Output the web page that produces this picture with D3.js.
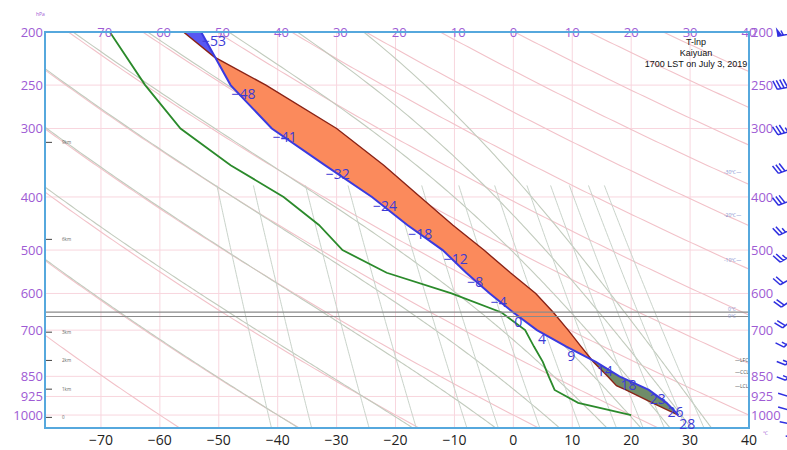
<!DOCTYPE html>
<html><head><meta charset="utf-8">
<script src="https://cdn.jsdelivr.net/npm/d3@7"></script>
<style>body{margin:0;background:#fff;} svg{display:block;font-family:"Open Sans",sans-serif;}</style>
</head><body><svg id="c" width="787" height="450"></svg>
<script>
// ---------- data ----------
const levels   = [1000,950,900,850,800,750,700,650,600,550,500,450,400,350,300,250,200];
const envTemp  = [28,26,23,18,14,9,4,0,-4,-8,-12,-18,-24,-32,-41,-48,-53];
const dewTemp  = [20,11,7,6,5,3.5,2,-2,-10.5,-21.5,-29,-33,-39,-48,-56.5,-62.5,-68.5];
const parcelP  = [1000,950,900,884,850,800,750,700,650,600,550,500,450,400,350,300,250,222,200];
const parcelT  = [28,23.6,19.1,17.5,16,13.6,11.5,9.3,6.8,3.8,-0.5,-5,-10.3,-15.8,-22,-30,-42,-50.8,-56];
const tempTicks = [-70,-60,-50,-40,-30,-20,-10,0,10,20,30,40];
const presTicks = [200,250,300,400,500,600,700,850,925,1000];
const heightLabels = ["9km","6km","3km","2km","1km","0"];
const heightP      = [318,478,706,795,897,1010];
const isoLabels = ["-30℃","-20℃","-10℃"];
const isoP      = [360,432,522];
const markLevels = [649,661];
const markLabels = ["0℃","0℃"];
const tagLabels = ["LFC","CCL","LCL"];
const tagP      = [794,835,884];
const windSpd = [6,8,10,12,14,14,16,18,20,22,24,26,28,30,34,40,55];
const windDir = [205,210,215,215,220,220,225,230,235,240,240,245,250,250,255,260,260];
const dryTheta = [-60,-40,-20,0,20,40,60,80,100,120,140,160,180,200];
const moistThetaW = [-40,-20.5,-6,5.3,13.7,19.7,24.8,28.5,32];
const mixRatios = [0.1,0.2,0.5,1,2,3,5,8,12,16,20,25,30];
const titleLines = ["T-lnp","Kaiyuan","1700 LST on July 3, 2019"];

// ---------- setup ----------
const svg = d3.select("#c");
const L=45, R=749, T=32, B=428;
const x = d3.scaleLinear().domain([-79.5,40]).range([L,R]);
const y = d3.scaleLog().domain([200,1056]).range([T,B]);
const purple = "#9e5bd4";

svg.append("rect").attr("width",787).attr("height",450).attr("fill","#fff");
svg.append("defs").append("clipPath").attr("id","clip")
  .append("rect").attr("x",L).attr("y",T).attr("width",R-L).attr("height",B-T);

const bg = svg.append("g").attr("clip-path","url(#clip)");
// grid
bg.selectAll(".vg").data(tempTicks).enter().append("line")
  .attr("x1",d=>x(d)).attr("x2",d=>x(d)).attr("y1",T).attr("y2",B)
  .attr("stroke","#f8d6de").attr("stroke-width",1);
bg.selectAll(".hg").data(presTicks).enter().append("line")
  .attr("x1",L).attr("x2",R).attr("y1",d=>y(d)).attr("y2",d=>y(d))
  .attr("stroke","#f8d6de").attr("stroke-width",1);

const lineTP = d3.line().x(d=>x(d[1])).y(d=>y(d[0]));
const pGrid = d3.range(0,161).map(i=>1056*Math.pow(200/1056,i/160));

// dry adiabats
dryTheta.forEach(th=>{
  const pts = pGrid.map(p=>[p,(th+273.15)*Math.pow(p/1000,0.286)-273.15]);
  bg.append("path").attr("d",lineTP(pts)).attr("fill","none")
    .attr("stroke","#f2c2c9").attr("stroke-width",1.1);
});
// moist adiabats
function dTdp(p,Tk){
  const Rd=287.04,cp=1005.7,Lv=2.501e6,eps=0.622;
  const Tc=Tk-273.15; const es=6.112*Math.exp(17.67*Tc/(Tc+243.5));
  const rs=eps*es/(p-es);
  return (1/p)*(Rd*Tk+Lv*rs)/(cp+Lv*Lv*rs*eps/(Rd*Tk*Tk));
}
function integrate(p0,T0,p1,dp){
  const out=[[p0,T0-273.15]]; let p=p0, Tk=T0;
  while((dp<0&&p>p1)||(dp>0&&p<p1)){
    const k1=dTdp(p,Tk), k2=dTdp(p+dp,Tk+k1*dp);
    Tk+=0.5*(k1+k2)*dp; p+=dp; out.push([p,Tk-273.15]);
  }
  return out;
}
moistThetaW.forEach(tw=>{
  const up=integrate(1000,tw+273.15,200,-4);
  const dn=integrate(1000,tw+273.15,1060,4).reverse();
  const pts=dn.concat(up.slice(1));
  bg.append("path").attr("d",lineTP(pts)).attr("fill","none")
    .attr("stroke","#c2cbbd").attr("stroke-width",1.1);
});
// mixing ratio lines
mixRatios.forEach(w=>{
  const pts=pGrid.filter(p=>p>=380).map(p=>{
    const e=w*p/(622+w); const a=Math.log(e/6.112);
    return [p,243.5*a/(17.67-a)];
  });
  bg.append("path").attr("d",lineTP(pts)).attr("fill","none")
    .attr("stroke","#c9d3ca").attr("stroke-width",1);
});

// ---------- CAPE / CIN areas ----------
function interp(ps,ts,p){
  const lp=Math.log(p);
  for(let i=0;i<ps.length-1;i++){
    if(p<=ps[i]&&p>=ps[i+1]){
      const f=(lp-Math.log(ps[i]))/(Math.log(ps[i+1])-Math.log(ps[i]));
      return ts[i]+f*(ts[i+1]-ts[i]);
    }
  }
  return NaN;
}
const dAt=p=>interp(parcelP,parcelT,p)-interp(levels,envTemp,p);
const grid=Array.from(new Set([...levels,...parcelP])).sort((a,b)=>b-a);
const pts=[];
for(let i=0;i<grid.length;i++){
  const p=grid[i]; pts.push({p,d:dAt(p)});
  if(i<grid.length-1){
    const q=grid[i+1], d0=dAt(p), d1=dAt(q);
    if(d0*d1<0){
      const lp=Math.log(p)+d0/(d0-d1)*(Math.log(q)-Math.log(p));
      pts.push({p:Math.exp(lp),d:0});
    }
  }
}
const runs=[]; let run=[pts[0]];
for(let i=1;i<pts.length;i++){
  run.push(pts[i]);
  if(Math.abs(pts[i].d)<1e-9){runs.push(run); run=[pts[i]];}
}
if(run.length>1) runs.push(run);
const fills=svg.append("g").attr("clip-path","url(#clip)");
runs.forEach(r=>{
  const s=d3.sum(r,d=>d.d); if(Math.abs(s)<1e-9) return;
  const meanP=d3.mean(r,d=>d.p);
  const col = s>0 ? "#fb8a5c" : (meanP>600 ? "#6f8c69" : "#5757f2");
  const poly=r.map(d=>[x(interp(parcelP,parcelT,d.p)),y(d.p)])
    .concat(r.slice().reverse().map(d=>[x(interp(levels,envTemp,d.p)),y(d.p)]));
  fills.append("path").attr("d","M"+poly.join("L")+"Z").attr("fill",col).attr("stroke","none");
});

// ---------- profiles ----------
const prof=svg.append("g").attr("clip-path","url(#clip)");
prof.append("path").attr("d",lineTP(levels.map((p,i)=>[p,dewTemp[i]])))
  .attr("fill","none").attr("stroke","#2b8a2b").attr("stroke-width",1.8);
prof.append("path").attr("d",lineTP(parcelP.map((p,i)=>[p,parcelT[i]])))
  .attr("fill","none").attr("stroke","#8a2316").attr("stroke-width",1.4);
prof.append("path").attr("d",lineTP(levels.map((p,i)=>[p,envTemp[i]])))
  .attr("fill","none").attr("stroke","#3a3ae0").attr("stroke-width",2);

// special levels
svg.selectAll(".ml").data(markLevels).enter().append("line")
  .attr("x1",L).attr("x2",R).attr("y1",d=>y(d)).attr("y2",d=>y(d))
  .attr("stroke","#8a8a8a").attr("stroke-width",1.2);
svg.selectAll(".mlt").data(markLevels).enter().append("text")
  .attr("x",728).attr("y",(d,i)=>y(d)-1+i*2).attr("font-size",5).attr("fill","#8090d0")
  .text((d,i)=>markLabels[i]);

// iso labels right
svg.selectAll(".iso").data(isoP).enter().append("text")
  .attr("x",724).attr("y",d=>y(d)+2).attr("font-size",5).attr("fill","#8090d0")
  .text((d,i)=>isoLabels[i]+"—");
svg.selectAll(".tag").data(tagP).enter().append("text")
  .attr("x",735).attr("y",d=>y(d)+2).attr("font-size",5).attr("fill","#555")
  .text((d,i)=>"—"+tagLabels[i]);

// height ticks left
svg.selectAll(".ht").data(heightP).enter().append("line")
  .attr("x1",L).attr("x2",L+7).attr("y1",d=>y(d)).attr("y2",d=>y(d))
  .attr("stroke","#444").attr("stroke-width",1);
svg.selectAll(".htt").data(heightP).enter().append("text")
  .attr("x",62).attr("y",d=>y(d)+2).attr("font-size",4.5).attr("fill","#666")
  .text((d,i)=>heightLabels[i]);

// ---------- axes labels ----------
const topT=svg.selectAll(".tt").data(tempTicks).enter().append("text")
  .attr("x",d=>x(d)).attr("y",T+4.6).attr("text-anchor","middle")
  .attr("font-size",13).attr("fill",purple);
topT.each(function(d){
  const t=d3.select(this);
  if(d<0){ t.append("tspan").attr("fill-opacity",0).text("−"); t.append("tspan").text(Math.abs(d)); }
  else t.text(d);
});
svg.selectAll(".bt").data(tempTicks).enter().append("text")
  .attr("x",d=>x(d)).attr("y",445).attr("text-anchor","middle")
  .attr("font-size",14).attr("fill","#222")
  .text(d=>d<0?"−"+Math.abs(d):d);
svg.selectAll(".lt").data(presTicks).enter().append("text")
  .attr("x",43).attr("y",d=>y(d)+4.6).attr("text-anchor","end")
  .attr("font-size",13).attr("fill",purple).text(d=>d);
svg.selectAll(".rt").data(presTicks).enter().append("text")
  .attr("x",751).attr("y",d=>y(d)+4.6).attr("text-anchor","start")
  .attr("font-size",13).attr("fill",purple).text(d=>d);
svg.append("text").attr("x",36).attr("y",16).attr("font-size",5).attr("fill",purple).text("hPa");
svg.append("text").attr("x",763).attr("y",435).attr("font-size",5).attr("fill",purple).text("℃");

// frame
svg.append("rect").attr("x",L).attr("y",T).attr("width",R-L).attr("height",B-T)
  .attr("fill","none").attr("stroke","#56a8dd").attr("stroke-width",2);

// temperature labels along env line
svg.selectAll(".el").data(levels).enter().append("text")
  .attr("x",(d,i)=>x(envTemp[i])+1).attr("y",(d,i)=>y(d)+14)
  .attr("font-size",14).attr("fill","#3b3bd6")
  .text((d,i)=>envTemp[i]<0?"−"+Math.abs(envTemp[i]):envTemp[i]);

// title
const tg=svg.append("g").attr("font-family","'Liberation Sans',Arial,sans-serif")
  .attr("font-size",9).attr("fill","#111").attr("text-anchor","middle");
titleLines.forEach((s,i)=>tg.append("text").attr("x",696).attr("y",45+i*11).text(s));

// wind barbs
const wg=svg.append("g");
levels.forEach((p,i)=>{
  const x0=801, y0=y(p), Lb=24, rad=windDir[i]*Math.PI/180;
  const ux=Math.sin(rad), uy=-Math.cos(rad);
  const x1=x0+ux*Lb, y1=y0+uy*Lb;
  const px=-uy, py=ux;
  let d=`M${x0},${y0}L${x1},${y1}`;
  let s=Math.round(windSpd[i]/5)*5, pos=0;
  while(s>=50){
    const bx=x1-ux*pos, by=y1-uy*pos;
    wg.append("path").attr("d",`M${bx},${by}L${bx+px*9},${by+py*9}L${bx-ux*5},${by-uy*5}Z`).attr("fill","#3030e0");
    s-=50; pos+=6;
  }
  while(s>=10){
    const bx=x1-ux*pos, by=y1-uy*pos;
    d+=`M${bx},${by}L${bx+px*9+ux*3},${by+py*9+uy*3}`; s-=10; pos+=3.5;
  }
  if(s>=5){
    const bx=x1-ux*pos, by=y1-uy*pos;
    d+=`M${bx},${by}L${bx+px*5+ux*1.5},${by+py*5+uy*1.5}`;
  }
  wg.append("path").attr("d",d).attr("fill","none").attr("stroke","#3030e0").attr("stroke-width",1.5);
});
</script></body></html>
